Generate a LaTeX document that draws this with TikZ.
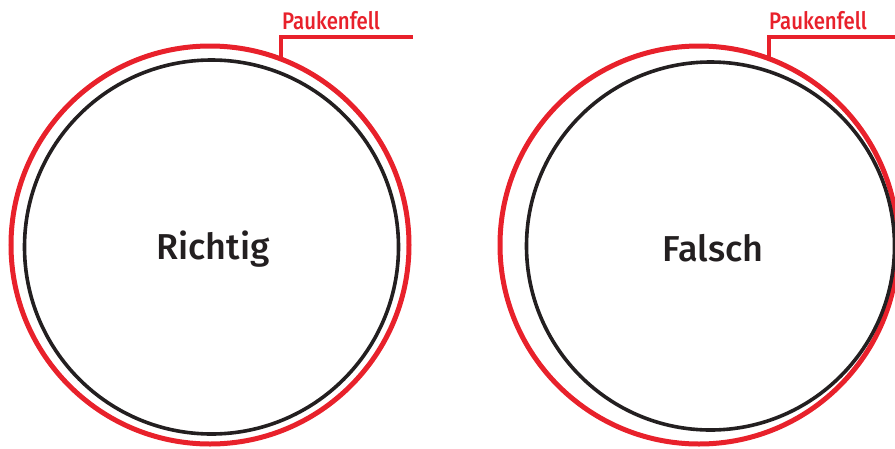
\documentclass[tikz,border=0pt]{standalone}
\usepackage{fontspec}
\setmainfont{Fira Sans}[UprightFont=* Medium]
\newfontfamily\labelfont{Fira Sans}[UprightFont=* Medium, FakeStretch=0.85]
\definecolor{pred}{HTML}{E8212B}
\definecolor{pblack}{HTML}{231F20}
\tikzset{
  redring/.style={circle, draw=pred, line width=5pt, inner sep=0pt},
  blackring/.style={circle, draw=pblack, line width=3.6pt, inner sep=0pt},
  bigtext/.style={font=\fontsize{36}{40}\selectfont, text=pblack},
  pklabel/.style={font=\labelfont\fontsize{24}{28}\selectfont, text=pred, anchor=base west, inner sep=0pt},
  pkline/.style={draw=pred, line width=3.2pt},
}
\begin{document}
\begin{tikzpicture}[x=1pt, y=-1pt]
\useasboundingbox (0,0) rectangle (895,448);
\clip (0,0) rectangle (895,448);
% left
\node[redring, minimum size=398pt] (redL) at (210,245) {};
\node[blackring, minimum size=374pt] (blackL) at (211.5,247) {};
\node[bigtext] (txtL) at (213,249) {Richtig};
\node[pklabel] (pkL) at (282,29.5) {Paukenfell};
\coordinate (pkLend) at (413,37);
\coordinate (pkLfoot) at (281,58);
\draw[pkline] (pkLfoot) |- (pkLend);
% right
\node[redring, minimum size=398pt] (redR) at (699,245) {};
\node[blackring, minimum size=368pt] (blackR) at (710.5,246) {};
\node[bigtext] (txtR) at (713,248) {Falsch};
\node[pklabel] (pkR) at (769,29.5) {Paukenfell};
\coordinate (pkRend) at (896,37);
\coordinate (pkRfoot) at (769,58);
\draw[pkline] (pkRfoot) |- (pkRend);
\end{tikzpicture}
\end{document}
